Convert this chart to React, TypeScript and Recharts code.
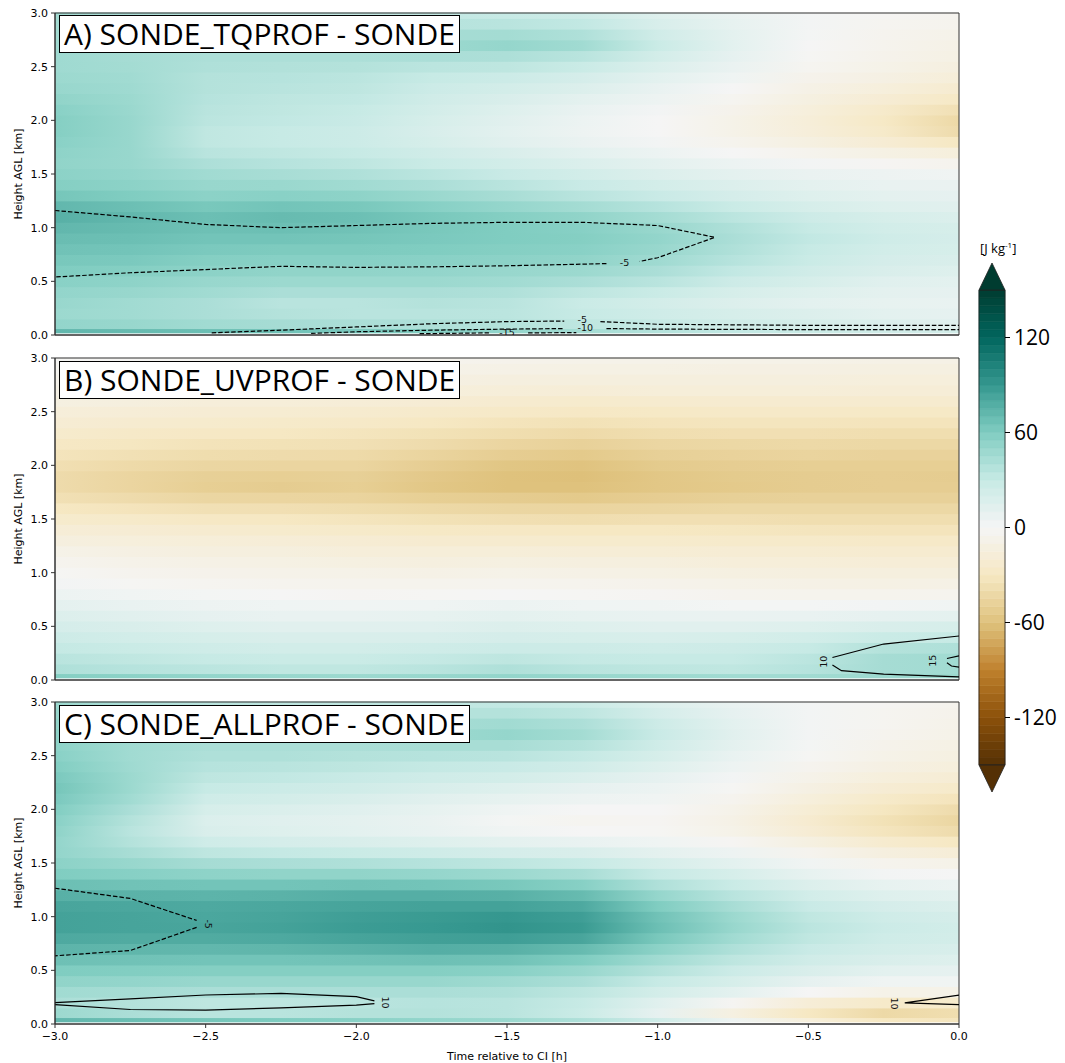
import React from 'react';
import { ComposedChart, XAxis, YAxis, Line, Scatter, ReferenceArea } from 'recharts';

// grid of the difference fields: time columns, height rows (bottom -> top)
const times = [-3, -2.75, -2.5, -2.25, -2, -1.75, -1.5, -1.25, -1, -0.75, -0.5, -0.25, 0];
const heights = [0.02, 0.1, 0.2, 0.3, 0.4, 0.5, 0.6, 0.7, 0.8, 0.9, 1.0, 1.1, 1.2, 1.3, 1.4, 1.5,
  1.6, 1.7, 1.8, 1.9, 2.0, 2.1, 2.2, 2.3, 2.4, 2.5, 2.6, 2.7, 2.8, 2.9, 3.0];

const xTicks = [-3, -2.5, -2, -1.5, -1, -0.5, 0];
const yTicks = [0, 0.5, 1, 1.5, 2, 2.5, 3];
const cbarTicks = [-120, -60, 0, 60, 120];
const panelTitles = ['A) SONDE_TQPROF - SONDE', 'B) SONDE_UVPROF - SONDE', 'C) SONDE_ALLPROF - SONDE'];

// A) TQPROF - SONDE  [J kg-1]
const tqDiff = [
  [72, 70, 68, 66, 62, 58, 52, 45, 38, 32, 28, 24, 22],
  [52, 50, 46, 44, 42, 40, 38, 34, 30, 25, 20, 16, 14],
  [48, 46, 42, 38, 36, 36, 35, 30, 25, 20, 16, 12, 10],
  [50, 46, 42, 36, 36, 38, 36, 28, 22, 16, 12, 9, 8],
  [52, 50, 46, 42, 42, 42, 40, 34, 28, 20, 15, 11, 10],
  [56, 54, 50, 48, 48, 48, 46, 42, 36, 26, 20, 14, 12],
  [60, 58, 55, 53, 53, 52, 50, 48, 42, 32, 24, 18, 15],
  [63, 62, 58, 57, 57, 56, 55, 53, 47, 37, 28, 21, 18],
  [66, 65, 62, 61, 61, 60, 58, 56, 50, 40, 30, 23, 20],
  [69, 68, 65, 65, 64, 62, 60, 58, 52, 42, 32, 25, 21],
  [72, 70, 67, 68, 66, 63, 60, 57, 50, 40, 30, 23, 20],
  [76, 72, 68, 70, 68, 63, 58, 53, 45, 35, 26, 20, 17],
  [72, 68, 63, 65, 63, 57, 51, 45, 37, 28, 20, 15, 13],
  [64, 60, 55, 56, 54, 49, 43, 36, 29, 21, 15, 11, 10],
  [58, 55, 50, 49, 46, 42, 36, 29, 22, 16, 11, 8, 7],
  [55, 52, 46, 43, 40, 35, 29, 23, 16, 11, 7, 5, 3],
  [53, 50, 41, 37, 34, 28, 23, 17, 11, 6, 2, -2, -5],
  [54, 50, 36, 33, 30, 24, 18, 12, 6, 0, -5, -10, -15],
  [56, 50, 33, 30, 27, 20, 13, 7, 2, -5, -12, -20, -30],
  [58, 50, 33, 30, 27, 19, 12, 5, 0, -8, -16, -26, -40],
  [58, 50, 35, 32, 29, 20, 13, 6, 0, -8, -17, -28, -42],
  [56, 49, 36, 33, 30, 22, 15, 8, 2, -6, -15, -25, -36],
  [53, 48, 37, 34, 32, 24, 18, 11, 5, -3, -12, -20, -28],
  [50, 47, 38, 36, 34, 27, 22, 16, 8, 0, -9, -15, -22],
  [48, 46, 38, 37, 35, 30, 27, 21, 12, 4, -6, -11, -17],
  [47, 45, 40, 39, 38, 35, 34, 28, 17, 7, -3, -8, -13],
  [47, 44, 41, 41, 41, 42, 41, 36, 22, 10, -1, -6, -10],
  [46, 44, 42, 43, 44, 48, 51, 46, 28, 12, 0, -5, -9],
  [45, 43, 40, 40, 41, 44, 45, 40, 24, 11, 1, -4, -7],
  [45, 42, 38, 36, 36, 37, 36, 32, 19, 9, 2, -3, -5],
  [45, 42, 38, 34, 32, 32, 30, 26, 15, 7, 2, -2, -4],
];

// B) UVPROF - SONDE
const uvDiff = [
  [58, 55, 52, 50, 48, 50, 52, 50, 48, 46, 46, 48, 48],
  [40, 37, 35, 33, 33, 36, 40, 36, 34, 33, 37, 44, 46],
  [36, 33, 30, 28, 28, 31, 34, 31, 30, 30, 35, 44, 46],
  [31, 28, 25, 23, 23, 25, 27, 26, 25, 26, 30, 38, 40],
  [26, 23, 20, 18, 18, 19, 21, 20, 19, 20, 23, 28, 30],
  [21, 18, 15, 13, 13, 14, 16, 15, 13, 13, 15, 18, 20],
  [16, 13, 10, 8, 8, 9, 11, 9, 8, 7, 8, 10, 11],
  [11, 8, 5, 4, 3, 4, 6, 4, 3, 1, 1, 2, 3],
  [6, 3, 1, 0, -2, -1, 0, -1, -2, -4, -5, -5, -4],
  [2, -1, -3, -4, -5, -5, -4, -5, -6, -8, -9, -10, -9],
  [-1, -4, -6, -7, -8, -9, -8, -9, -10, -12, -13, -14, -14],
  [-4, -7, -9, -10, -12, -13, -12, -13, -14, -16, -17, -18, -18],
  [-8, -11, -13, -14, -16, -17, -17, -18, -19, -20, -21, -22, -22],
  [-13, -15, -17, -18, -20, -22, -23, -24, -24, -25, -26, -27, -27],
  [-18, -20, -22, -24, -26, -28, -29, -30, -30, -31, -32, -33, -33],
  [-24, -26, -29, -30, -32, -35, -37, -38, -37, -37, -38, -38, -38],
  [-30, -33, -36, -37, -39, -42, -44, -45, -44, -43, -43, -43, -43],
  [-36, -40, -44, -45, -46, -50, -52, -54, -51, -49, -48, -48, -48],
  [-40, -45, -50, -52, -50, -56, -60, -60, -56, -54, -52, -51, -51],
  [-40, -45, -49, -50, -49, -55, -60, -61, -56, -53, -52, -51, -52],
  [-37, -41, -44, -45, -45, -51, -57, -59, -53, -51, -50, -50, -50],
  [-33, -36, -39, -40, -41, -46, -51, -54, -49, -47, -46, -47, -47],
  [-29, -31, -34, -35, -36, -40, -45, -48, -44, -43, -42, -43, -43],
  [-24, -27, -29, -30, -32, -35, -38, -41, -38, -37, -37, -38, -38],
  [-20, -22, -24, -26, -27, -30, -33, -35, -33, -32, -32, -33, -33],
  [-16, -18, -20, -21, -23, -25, -27, -29, -28, -27, -27, -28, -28],
  [-12, -14, -16, -17, -18, -20, -22, -24, -23, -22, -22, -23, -23],
  [-9, -10, -11, -12, -13, -15, -17, -18, -17, -17, -17, -18, -18],
  [-6, -7, -8, -9, -10, -11, -13, -14, -14, -14, -14, -15, -15],
  [-3, -4, -5, -6, -7, -8, -9, -10, -10, -11, -11, -12, -12],
  [-1, -2, -3, -3, -4, -5, -6, -7, -7, -8, -8, -9, -9],
];

// C) ALLPROF - SONDE
const allDiff = [
  [72, 68, 64, 60, 56, 52, 48, 40, 25, 5, -15, -30, -32],
  [48, 42, 36, 36, 38, 38, 36, 28, 10, -12, -30, -42, -38],
  [42, 38, 34, 34, 36, 37, 36, 30, 14, -2, -18, -26, -24],
  [46, 44, 42, 42, 42, 42, 40, 34, 22, 12, 0, -8, -8],
  [53, 52, 50, 50, 50, 50, 47, 42, 30, 20, 10, 4, 3],
  [60, 59, 58, 58, 58, 58, 56, 50, 38, 27, 18, 12, 10],
  [67, 66, 65, 65, 66, 67, 66, 60, 46, 34, 24, 18, 15],
  [74, 73, 72, 73, 75, 77, 76, 70, 55, 40, 29, 22, 19],
  [80, 79, 79, 80, 83, 85, 86, 82, 63, 46, 33, 25, 22],
  [84, 83, 82, 84, 87, 89, 92, 88, 68, 50, 35, 27, 23],
  [84, 83, 81, 83, 86, 88, 90, 86, 66, 48, 33, 25, 21],
  [82, 81, 80, 81, 83, 84, 84, 80, 60, 43, 29, 21, 17],
  [76, 75, 74, 75, 77, 77, 76, 70, 51, 36, 23, 15, 12],
  [68, 66, 65, 65, 66, 65, 63, 57, 40, 28, 16, 9, 6],
  [60, 57, 54, 53, 53, 51, 48, 43, 30, 20, 9, 2, 0],
  [55, 50, 44, 42, 40, 37, 34, 30, 20, 12, 3, -5, -8],
  [52, 43, 34, 31, 28, 25, 21, 18, 11, 5, -4, -13, -18],
  [52, 38, 25, 21, 18, 15, 11, 8, 4, -2, -12, -23, -30],
  [54, 36, 18, 15, 12, 8, 3, 0, -1, -8, -20, -32, -40],
  [56, 38, 17, 14, 11, 7, 1, -3, -2, -9, -22, -35, -44],
  [59, 42, 20, 17, 14, 9, 4, 0, 0, -7, -19, -31, -40],
  [62, 46, 25, 22, 18, 13, 9, 5, 3, -4, -15, -26, -33],
  [64, 48, 30, 27, 24, 19, 15, 10, 6, -1, -11, -20, -26],
  [62, 48, 34, 32, 29, 25, 22, 17, 10, 2, -7, -15, -20],
  [59, 47, 37, 36, 34, 31, 29, 24, 15, 5, -4, -11, -15],
  [56, 46, 40, 40, 38, 37, 36, 31, 20, 8, -1, -8, -12],
  [54, 46, 42, 42, 42, 43, 43, 38, 25, 11, 1, -6, -10],
  [54, 46, 43, 44, 45, 48, 51, 45, 29, 13, 2, -4, -8],
  [52, 45, 41, 41, 42, 44, 46, 41, 26, 12, 2, -3, -7],
  [50, 43, 38, 37, 37, 38, 38, 34, 21, 10, 2, -3, -6],
  [48, 42, 36, 34, 33, 33, 32, 28, 17, 8, 2, -2, -5],
];

// contour lines [time, height]; null height = gap for the inline label
const tqContours = [
  { dashed: true, pts: [[-3, 1.16], [-2.75, 1.1], [-2.5, 1.03], [-2.25, 1.0], [-2, 1.02], [-1.75, 1.04], [-1.5, 1.05], [-1.25, 1.05], [-1, 1.02], [-0.81, 0.91], [-1, 0.72], [-1.06, 0.685], [-1.11, null], [-1.17, 0.665], [-1.25, 0.66], [-1.5, 0.645], [-1.75, 0.635], [-2, 0.63], [-2.25, 0.64], [-2.5, 0.61], [-2.75, 0.58], [-3, 0.54]] },
  { dashed: true, pts: [[-2.48, 0.02], [-2.25, 0.045], [-2, 0.075], [-1.75, 0.105], [-1.5, 0.125], [-1.31, 0.13], [-1.25, null], [-1.19, 0.125], [-1, 0.1], [-0.5, 0.09], [0, 0.09]] },
  { dashed: true, pts: [[-2.15, 0.015], [-2, 0.03], [-1.75, 0.045], [-1.5, 0.055], [-1.31, 0.06], [-1.25, null], [-1.17, 0.06], [-1, 0.055], [-0.5, 0.05], [0, 0.05]] },
  { dashed: true, pts: [[-1.79, 0.012], [-1.56, 0.02], [-1.5, null], [-1.43, 0.02], [-1.27, 0.022]] },
];
const tqLabels = [
  { t: -1.11, h: 0.675, text: '-5', rot: 0 },
  { t: -1.25, h: 0.14, text: '-5', rot: 0 },
  { t: -1.24, h: 0.07, text: '-10', rot: 0 },
  { t: -1.5, h: 0.025, text: '-15', rot: 0 },
];

const uvContours = [
  { dashed: false, pts: [[0, 0.41], [-0.25, 0.335], [-0.42, 0.21], [-0.45, null], [-0.42, 0.14], [-0.39, 0.087], [-0.25, 0.055], [0, 0.03]] },
  { dashed: false, pts: [[0, 0.225], [-0.04, 0.2], [-0.045, null], [-0.04, 0.16], [-0.025, 0.13], [0, 0.12]] },
];
const uvLabels = [
  { t: -0.45, h: 0.17, text: '10', rot: -90 },
  { t: -0.086, h: 0.18, text: '15', rot: -90 },
];

const allContours = [
  { dashed: true, pts: [[-3, 1.265], [-2.75, 1.17], [-2.53, 0.965], [-2.5, null], [-2.53, 0.9], [-2.75, 0.685], [-3, 0.635]] },
  { dashed: false, pts: [[-3, 0.2], [-2.75, 0.235], [-2.5, 0.27], [-2.25, 0.285], [-2, 0.255], [-1.94, 0.215], [-1.91, null], [-1.94, 0.19], [-2, 0.175], [-2.25, 0.15], [-2.5, 0.13], [-2.75, 0.135], [-3, 0.18]] },
  { dashed: false, pts: [[0, 0.27], [-0.18, 0.197], [0, 0.18]] },
];
const allLabels = [
  { t: -2.49, h: 0.93, text: '-5', rot: 90 },
  { t: -1.905, h: 0.2, text: '10', rot: 90 },
  { t: -0.215, h: 0.19, text: '10', rot: 90 },
];

// BrBG colour map, range -150 .. 150
const brbg = ['#543005', '#8c510a', '#bf812d', '#dfc27d', '#f6e8c3', '#f5f5f5',
  '#c7eae5', '#80cdc1', '#35978f', '#01665e', '#003c30'];
const levelStep = 5;

function hexToRgb(h: string) {
  return [1, 3, 5].map((i) => parseInt(h.slice(i, i + 2), 16));
}

function colorOf(v: number) {
  const t = Math.max(0, Math.min(1, (v + 150) / 300)) * 10;
  const i = Math.min(9, Math.floor(t));
  const f = t - i;
  const a = hexToRgb(brbg[i]);
  const b = hexToRgb(brbg[i + 1]);
  const c = a.map((x, k) => Math.round(x + (b[k] - x) * f));
  return `rgb(${c[0]},${c[1]},${c[2]})`;
}

const cbarLevels: number[] = [];
for (let l = -150; l < 150; l += levelStep) cbarLevels.push(l);
const cbarEnds = [{ x: 0.5, y: 150 }, { x: 0.5, y: -150 }];

const tickFont = { fontSize: 11, fill: '#000', fontFamily: 'DejaVu Sans' };
const fmtX = (v: number) => (v < 0 ? '\u2212' + Math.abs(v).toFixed(1) : v.toFixed(1));
const fmtY = (v: number) => v.toFixed(1);

function heatRows(key: string, grid: number[][]) {
  const last = times.length - 1;
  return heights.map((h, k) => {
    const lo = k === 0 ? h : (heights[k - 1] + h) / 2;
    const hi = k === heights.length - 1 ? h : (h + heights[k + 1]) / 2;
    const gid = `${key}-row${k}`;
    const row = grid[k];
    return (
      <ReferenceArea
        key={gid}
        x1={times[0]}
        x2={times[last]}
        y1={lo}
        y2={hi}
        shape={(p: any) => (
          <g>
            <defs>
              <linearGradient id={gid} x1="0" y1="0" x2="1" y2="0">
                {row.map((v, i) => (
                  <stop key={i} offset={(times[i] - times[0]) / (times[last] - times[0])} stopColor={colorOf(v)} />
                ))}
              </linearGradient>
            </defs>
            <rect x={p.x} y={p.y - 0.5} width={p.width} height={p.height + 1} fill={`url(#${gid})`} />
          </g>
        )}
      />
    );
  });
}

const ContourText = (p: any) => {
  const { cx, cy, payload } = p;
  if (cx == null || cy == null) return null;
  return (
    <text x={cx} y={cy} dy="0.35em" textAnchor="middle" fontSize={9.5} fontFamily="DejaVu Sans"
      fill="#111" transform={`rotate(${payload.rot} ${cx} ${cy})`}>
      {payload.text}
    </text>
  );
};

const YLabel = (p: any) => {
  const vb = p.viewBox || { x: 0, y: 0, height: 0 };
  const x = vb.x + 12;
  const y = vb.y + vb.height / 2;
  return (
    <text x={x} y={y} textAnchor="middle" fontSize={11} fontFamily="DejaVu Sans" fill="#000"
      transform={`rotate(-90 ${x} ${y})`}>
      Height AGL [km]
    </text>
  );
};

function Panel(props: {
  idKey: string; title: string; grid: number[][]; contours: any[]; labels: any[];
  top: number; height: number; showX: boolean;
}) {
  const { idKey, title, grid, contours, labels, top, height, showX } = props;
  return (
    <div style={{ position: 'absolute', left: 0, top }}>
      <ComposedChart width={1065} height={height} margin={{ top: 13, right: 106, bottom: 0, left: 10 }}>
        <XAxis
          type="number" dataKey="t" domain={[-3, 0]} ticks={xTicks} allowDataOverflow
          height={showX ? 39 : 10} tick={showX ? tickFont : false} tickFormatter={fmtX}
          tickSize={4} tickMargin={4} stroke="#333"
          label={showX ? { value: 'Time relative to CI [h]', position: 'insideBottom', offset: 3, fill: '#000', fontSize: 11, fontFamily: 'DejaVu Sans' } : undefined}
        />
        <YAxis
          type="number" dataKey="h" domain={[0, 3]} ticks={yTicks} allowDataOverflow width={45}
          tick={tickFont} tickFormatter={fmtY} tickSize={4} tickMargin={3} stroke="#333"
          label={<YLabel />}
        />
        {heatRows(idKey, grid)}
        <ReferenceArea x1={-3} x2={0} y1={0} y2={3} fill="none" fillOpacity={0} stroke="#333" strokeWidth={1} />
        {contours.map((c, i) => (
          <Line
            key={`${idKey}-c${i}`}
            data={c.pts.map((q: any) => ({ t: q[0], h: q[1] }))}
            dataKey="h" type="linear" stroke="#000" strokeWidth={1.2}
            strokeDasharray={c.dashed ? '4.5 2' : undefined}
            dot={false} activeDot={false} connectNulls={false} isAnimationActive={false}
          />
        ))}
        <Scatter data={labels} shape={ContourText} isAnimationActive={false} />
      </ComposedChart>
      <div
        style={{
          position: 'absolute', left: 59, top: 15 + (idKey === 'a' ? 0 : 1), height: 36, lineHeight: '35px',
          border: '1px solid #000', background: '#fff', padding: '0 4px',
          fontFamily: '"Open Sans"', fontSize: 30, color: '#000', whiteSpace: 'nowrap',
        }}
      >
        {title}
      </div>
    </div>
  );
}

const CbarEnd = (p: any) => {
  const { cx, cy, payload } = p;
  if (cx == null || cy == null) return null;
  const d = payload.y > 0 ? -1 : 1;
  return (
    <polygon
      points={`${cx - 13},${cy} ${cx + 13},${cy} ${cx},${cy + d * 27}`}
      fill={colorOf(payload.y)} stroke="#222" strokeWidth={0.8}
    />
  );
};

function Colorbar() {
  return (
    <div style={{ position: 'absolute', left: 960, top: 240 }}>
      <ComposedChart width={105} height={560} margin={{ top: 50, right: 10, bottom: 35, left: 19 }}>
        <XAxis type="number" dataKey="x" domain={[0, 1]} hide />
        <YAxis
          type="number" dataKey="y" domain={[-150, 150]} orientation="right" ticks={cbarTicks} width={50}
          axisLine={false} tickSize={5} tickMargin={4} stroke="#000"
          tick={{ fontSize: 21, fill: '#000', fontFamily: '"Open Sans"' }}
          tickFormatter={(v: number) => String(v)}
        />
        {cbarLevels.map((l) => (
          <ReferenceArea key={`cb${l}`} y1={l} y2={l + levelStep} fill={colorOf(l + levelStep / 2)}
            fillOpacity={1} stroke={colorOf(l + levelStep / 2)} strokeWidth={0.6} />
        ))}
        <ReferenceArea y1={-150} y2={150} fill="none" fillOpacity={0} stroke="#222" strokeWidth={0.8} />
        <Scatter data={cbarEnds} shape={CbarEnd} isAnimationActive={false} />
      </ComposedChart>
      <div style={{ position: 'absolute', left: 20, top: -1, fontFamily: '"Open Sans"', fontSize: 13, color: '#000', whiteSpace: 'nowrap' }}>
        [J kg<sup style={{ fontSize: 8 }}>-1</sup>]
      </div>
    </div>
  );
}

export default function App() {
  return (
    <div style={{ position: 'absolute', left: 0, top: 0, width: 1065, height: 1063, background: '#fff', overflow: 'hidden' }}>
      <Panel idKey="a" title={panelTitles[0]} grid={tqDiff} contours={tqContours} labels={tqLabels} top={0} height={345} showX={false} />
      <Panel idKey="b" title={panelTitles[1]} grid={uvDiff} contours={uvContours} labels={uvLabels} top={345} height={345} showX={false} />
      <Panel idKey="c" title={panelTitles[2]} grid={allDiff} contours={allContours} labels={allLabels} top={689} height={374} showX />
      <Colorbar />
    </div>
  );
}
